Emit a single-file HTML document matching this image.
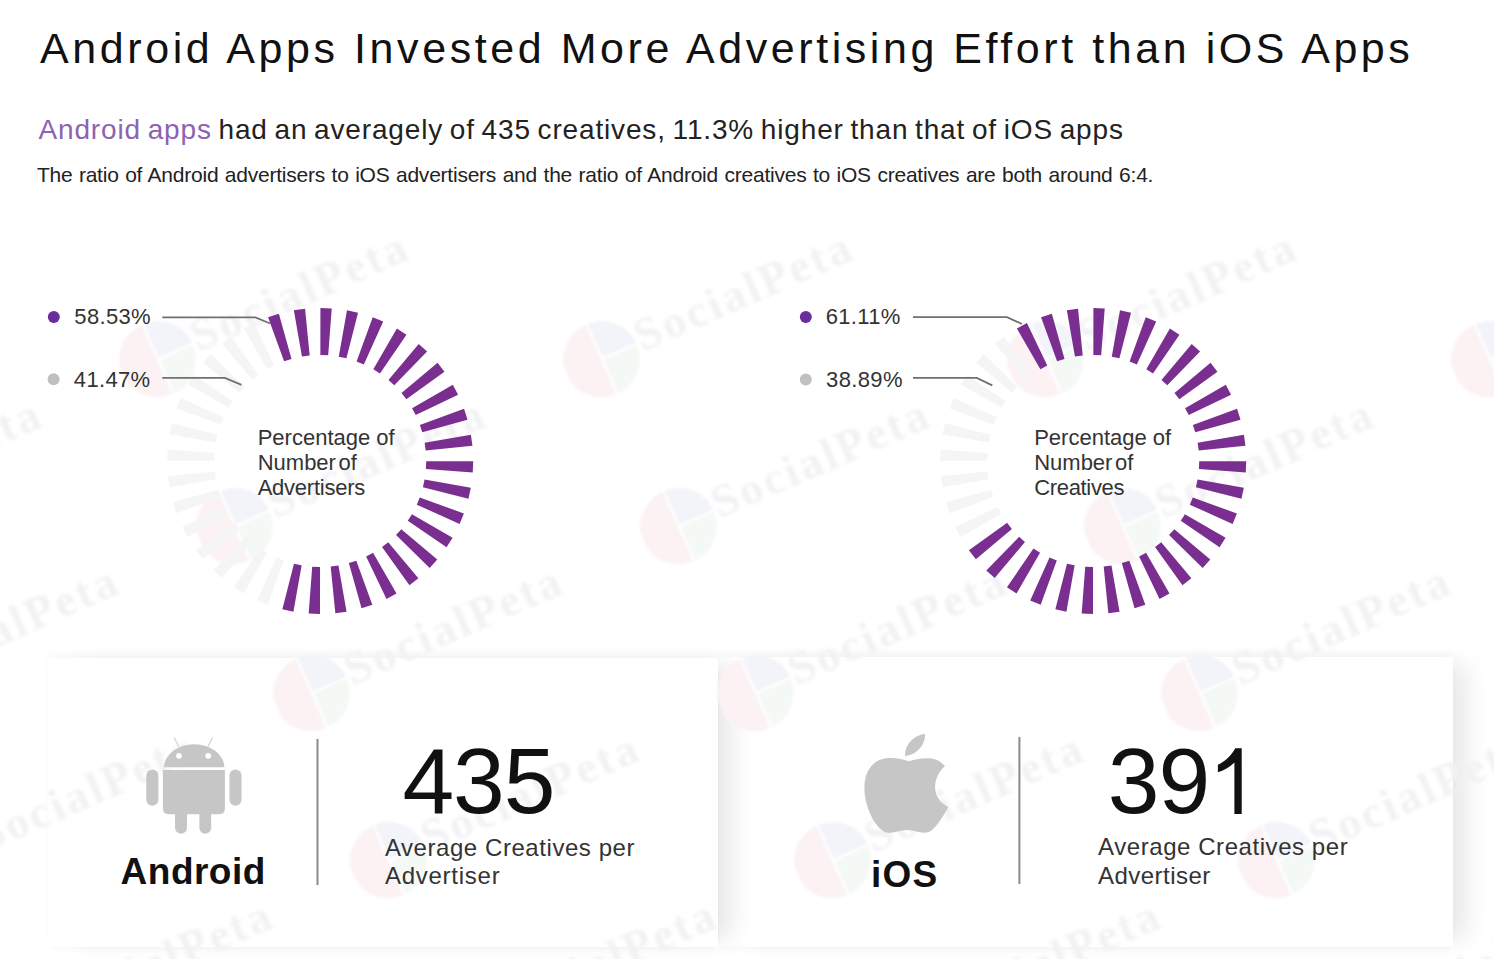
<!DOCTYPE html>
<html><head><meta charset="utf-8"><title>Android vs iOS</title>
<style>
html,body{margin:0;padding:0;}
body{width:1494px;height:959px;overflow:hidden;background:#fff;position:relative;font-family:"Liberation Sans", sans-serif;}
.t{position:absolute;white-space:nowrap;}
svg{position:absolute;left:0;top:0;}
.wm{position:absolute;width:0;height:0;transform:rotate(-23.7deg);transform-origin:0 0;}
.wm svg{position:absolute;left:-38px;top:-38px;filter:blur(1px);}
.wm span{position:absolute;left:40px;top:-28px;font-family:"Liberation Serif",serif;font-weight:bold;font-size:46px;line-height:46px;letter-spacing:3px;color:#f2f2f5;white-space:nowrap;filter:blur(1.5px);}
.card{position:absolute;background:#fff;box-shadow:22px 0 22px -8px rgba(0,0,0,0.09), 0 -5px 8px -2px rgba(0,0,0,0.035), 0 5px 6px -3px rgba(0,0,0,0.03);}
</style></head><body>
<div class="card" style="left:719px;top:657px;width:734px;height:290px;"></div>
<div class="card" style="left:48px;top:658px;width:670px;height:289px;"></div>
<div class="wm" style="left:-286px;top:359px"><svg width="76" height="76" viewBox="-38 -38 76 76"><path d="M-1.2,-38 L-1.2,38 A38,38 0 0 1 -1.2,-38 Z" fill="#fcf2f4"/><path d="M1.2,-38 A38,38 0 0 1 38,-1.2 L1.2,-1.2 Z" fill="#f2f4fa"/><path d="M1.2,1.2 L38,1.2 A38,38 0 0 1 1.2,38 Z" fill="#f5f9f6"/></svg><span>SocialPeta</span></div>
<div class="wm" style="left:158px;top:359px"><svg width="76" height="76" viewBox="-38 -38 76 76"><path d="M-1.2,-38 L-1.2,38 A38,38 0 0 1 -1.2,-38 Z" fill="#fcf2f4"/><path d="M1.2,-38 A38,38 0 0 1 38,-1.2 L1.2,-1.2 Z" fill="#f2f4fa"/><path d="M1.2,1.2 L38,1.2 A38,38 0 0 1 1.2,38 Z" fill="#f5f9f6"/></svg><span>SocialPeta</span></div>
<div class="wm" style="left:602px;top:359px"><svg width="76" height="76" viewBox="-38 -38 76 76"><path d="M-1.2,-38 L-1.2,38 A38,38 0 0 1 -1.2,-38 Z" fill="#fcf2f4"/><path d="M1.2,-38 A38,38 0 0 1 38,-1.2 L1.2,-1.2 Z" fill="#f2f4fa"/><path d="M1.2,1.2 L38,1.2 A38,38 0 0 1 1.2,38 Z" fill="#f5f9f6"/></svg><span>SocialPeta</span></div>
<div class="wm" style="left:1046px;top:359px"><svg width="76" height="76" viewBox="-38 -38 76 76"><path d="M-1.2,-38 L-1.2,38 A38,38 0 0 1 -1.2,-38 Z" fill="#fcf2f4"/><path d="M1.2,-38 A38,38 0 0 1 38,-1.2 L1.2,-1.2 Z" fill="#f2f4fa"/><path d="M1.2,1.2 L38,1.2 A38,38 0 0 1 1.2,38 Z" fill="#f5f9f6"/></svg><span>SocialPeta</span></div>
<div class="wm" style="left:1490px;top:359px"><svg width="76" height="76" viewBox="-38 -38 76 76"><path d="M-1.2,-38 L-1.2,38 A38,38 0 0 1 -1.2,-38 Z" fill="#fcf2f4"/><path d="M1.2,-38 A38,38 0 0 1 38,-1.2 L1.2,-1.2 Z" fill="#f2f4fa"/><path d="M1.2,1.2 L38,1.2 A38,38 0 0 1 1.2,38 Z" fill="#f5f9f6"/></svg><span>SocialPeta</span></div>
<div class="wm" style="left:-209px;top:526px"><svg width="76" height="76" viewBox="-38 -38 76 76"><path d="M-1.2,-38 L-1.2,38 A38,38 0 0 1 -1.2,-38 Z" fill="#fcf2f4"/><path d="M1.2,-38 A38,38 0 0 1 38,-1.2 L1.2,-1.2 Z" fill="#f2f4fa"/><path d="M1.2,1.2 L38,1.2 A38,38 0 0 1 1.2,38 Z" fill="#f5f9f6"/></svg><span>SocialPeta</span></div>
<div class="wm" style="left:235px;top:526px"><svg width="76" height="76" viewBox="-38 -38 76 76"><path d="M-1.2,-38 L-1.2,38 A38,38 0 0 1 -1.2,-38 Z" fill="#fcf2f4"/><path d="M1.2,-38 A38,38 0 0 1 38,-1.2 L1.2,-1.2 Z" fill="#f2f4fa"/><path d="M1.2,1.2 L38,1.2 A38,38 0 0 1 1.2,38 Z" fill="#f5f9f6"/></svg><span>SocialPeta</span></div>
<div class="wm" style="left:679px;top:526px"><svg width="76" height="76" viewBox="-38 -38 76 76"><path d="M-1.2,-38 L-1.2,38 A38,38 0 0 1 -1.2,-38 Z" fill="#fcf2f4"/><path d="M1.2,-38 A38,38 0 0 1 38,-1.2 L1.2,-1.2 Z" fill="#f2f4fa"/><path d="M1.2,1.2 L38,1.2 A38,38 0 0 1 1.2,38 Z" fill="#f5f9f6"/></svg><span>SocialPeta</span></div>
<div class="wm" style="left:1123px;top:526px"><svg width="76" height="76" viewBox="-38 -38 76 76"><path d="M-1.2,-38 L-1.2,38 A38,38 0 0 1 -1.2,-38 Z" fill="#fcf2f4"/><path d="M1.2,-38 A38,38 0 0 1 38,-1.2 L1.2,-1.2 Z" fill="#f2f4fa"/><path d="M1.2,1.2 L38,1.2 A38,38 0 0 1 1.2,38 Z" fill="#f5f9f6"/></svg><span>SocialPeta</span></div>
<div class="wm" style="left:-132px;top:693px"><svg width="76" height="76" viewBox="-38 -38 76 76"><path d="M-1.2,-38 L-1.2,38 A38,38 0 0 1 -1.2,-38 Z" fill="#fcf2f4"/><path d="M1.2,-38 A38,38 0 0 1 38,-1.2 L1.2,-1.2 Z" fill="#f2f4fa"/><path d="M1.2,1.2 L38,1.2 A38,38 0 0 1 1.2,38 Z" fill="#f5f9f6"/></svg><span>SocialPeta</span></div>
<div class="wm" style="left:312px;top:693px"><svg width="76" height="76" viewBox="-38 -38 76 76"><path d="M-1.2,-38 L-1.2,38 A38,38 0 0 1 -1.2,-38 Z" fill="#fcf2f4"/><path d="M1.2,-38 A38,38 0 0 1 38,-1.2 L1.2,-1.2 Z" fill="#f2f4fa"/><path d="M1.2,1.2 L38,1.2 A38,38 0 0 1 1.2,38 Z" fill="#f5f9f6"/></svg><span>SocialPeta</span></div>
<div class="wm" style="left:756px;top:693px"><svg width="76" height="76" viewBox="-38 -38 76 76"><path d="M-1.2,-38 L-1.2,38 A38,38 0 0 1 -1.2,-38 Z" fill="#fcf2f4"/><path d="M1.2,-38 A38,38 0 0 1 38,-1.2 L1.2,-1.2 Z" fill="#f2f4fa"/><path d="M1.2,1.2 L38,1.2 A38,38 0 0 1 1.2,38 Z" fill="#f5f9f6"/></svg><span>SocialPeta</span></div>
<div class="wm" style="left:1200px;top:693px"><svg width="76" height="76" viewBox="-38 -38 76 76"><path d="M-1.2,-38 L-1.2,38 A38,38 0 0 1 -1.2,-38 Z" fill="#fcf2f4"/><path d="M1.2,-38 A38,38 0 0 1 38,-1.2 L1.2,-1.2 Z" fill="#f2f4fa"/><path d="M1.2,1.2 L38,1.2 A38,38 0 0 1 1.2,38 Z" fill="#f5f9f6"/></svg><span>SocialPeta</span></div>
<div class="wm" style="left:-55px;top:860px"><svg width="76" height="76" viewBox="-38 -38 76 76"><path d="M-1.2,-38 L-1.2,38 A38,38 0 0 1 -1.2,-38 Z" fill="#fcf2f4"/><path d="M1.2,-38 A38,38 0 0 1 38,-1.2 L1.2,-1.2 Z" fill="#f2f4fa"/><path d="M1.2,1.2 L38,1.2 A38,38 0 0 1 1.2,38 Z" fill="#f5f9f6"/></svg><span>SocialPeta</span></div>
<div class="wm" style="left:389px;top:860px"><svg width="76" height="76" viewBox="-38 -38 76 76"><path d="M-1.2,-38 L-1.2,38 A38,38 0 0 1 -1.2,-38 Z" fill="#fcf2f4"/><path d="M1.2,-38 A38,38 0 0 1 38,-1.2 L1.2,-1.2 Z" fill="#f2f4fa"/><path d="M1.2,1.2 L38,1.2 A38,38 0 0 1 1.2,38 Z" fill="#f5f9f6"/></svg><span>SocialPeta</span></div>
<div class="wm" style="left:833px;top:860px"><svg width="76" height="76" viewBox="-38 -38 76 76"><path d="M-1.2,-38 L-1.2,38 A38,38 0 0 1 -1.2,-38 Z" fill="#fcf2f4"/><path d="M1.2,-38 A38,38 0 0 1 38,-1.2 L1.2,-1.2 Z" fill="#f2f4fa"/><path d="M1.2,1.2 L38,1.2 A38,38 0 0 1 1.2,38 Z" fill="#f5f9f6"/></svg><span>SocialPeta</span></div>
<div class="wm" style="left:1277px;top:860px"><svg width="76" height="76" viewBox="-38 -38 76 76"><path d="M-1.2,-38 L-1.2,38 A38,38 0 0 1 -1.2,-38 Z" fill="#fcf2f4"/><path d="M1.2,-38 A38,38 0 0 1 38,-1.2 L1.2,-1.2 Z" fill="#f2f4fa"/><path d="M1.2,1.2 L38,1.2 A38,38 0 0 1 1.2,38 Z" fill="#f5f9f6"/></svg><span>SocialPeta</span></div>
<div class="wm" style="left:22px;top:1027px"><svg width="76" height="76" viewBox="-38 -38 76 76"><path d="M-1.2,-38 L-1.2,38 A38,38 0 0 1 -1.2,-38 Z" fill="#fcf2f4"/><path d="M1.2,-38 A38,38 0 0 1 38,-1.2 L1.2,-1.2 Z" fill="#f2f4fa"/><path d="M1.2,1.2 L38,1.2 A38,38 0 0 1 1.2,38 Z" fill="#f5f9f6"/></svg><span>SocialPeta</span></div>
<div class="wm" style="left:466px;top:1027px"><svg width="76" height="76" viewBox="-38 -38 76 76"><path d="M-1.2,-38 L-1.2,38 A38,38 0 0 1 -1.2,-38 Z" fill="#fcf2f4"/><path d="M1.2,-38 A38,38 0 0 1 38,-1.2 L1.2,-1.2 Z" fill="#f2f4fa"/><path d="M1.2,1.2 L38,1.2 A38,38 0 0 1 1.2,38 Z" fill="#f5f9f6"/></svg><span>SocialPeta</span></div>
<div class="wm" style="left:910px;top:1027px"><svg width="76" height="76" viewBox="-38 -38 76 76"><path d="M-1.2,-38 L-1.2,38 A38,38 0 0 1 -1.2,-38 Z" fill="#fcf2f4"/><path d="M1.2,-38 A38,38 0 0 1 38,-1.2 L1.2,-1.2 Z" fill="#f2f4fa"/><path d="M1.2,1.2 L38,1.2 A38,38 0 0 1 1.2,38 Z" fill="#f5f9f6"/></svg><span>SocialPeta</span></div>
<div class="wm" style="left:1354px;top:1027px"><svg width="76" height="76" viewBox="-38 -38 76 76"><path d="M-1.2,-38 L-1.2,38 A38,38 0 0 1 -1.2,-38 Z" fill="#fcf2f4"/><path d="M1.2,-38 A38,38 0 0 1 38,-1.2 L1.2,-1.2 Z" fill="#f2f4fa"/><path d="M1.2,1.2 L38,1.2 A38,38 0 0 1 1.2,38 Z" fill="#f5f9f6"/></svg><span>SocialPeta</span></div>
<svg width="1494" height="959" viewBox="0 0 1494 959">
<path d="M267.67,604.70 L257.19,600.42 L276.55,557.59 L283.81,560.56ZM243.52,593.39 L233.94,587.36 L260.44,548.55 L267.07,552.72ZM221.69,578.07 L213.30,570.46 L246.14,536.84 L251.95,542.11ZM202.86,559.18 L195.92,550.24 L234.10,522.83 L238.90,529.02ZM187.59,537.31 L182.31,527.30 L224.67,506.93 L228.33,513.87ZM176.35,513.13 L172.89,502.35 L218.14,489.65 L220.54,497.12ZM169.49,487.36 L167.95,476.14 L214.72,471.49 L215.78,479.26ZM167.20,460.79 L167.63,449.47 L214.50,453.02 L214.20,460.85ZM169.56,434.22 L171.95,423.16 L217.49,434.78 L215.84,442.45ZM176.50,408.47 L180.78,397.99 L223.61,417.35 L220.64,424.61ZM187.81,384.32 L193.84,374.74 L232.65,401.24 L228.48,407.87ZM203.13,362.49 L210.74,354.10 L244.36,386.94 L239.09,392.75ZM222.02,343.66 L230.96,336.72 L258.37,374.90 L252.18,379.70ZM243.89,328.39 L253.90,323.11 L274.27,365.47 L267.33,369.13Z" fill="#f5f5f5"/>
<path d="M268.07,317.15 L278.85,313.69 L291.55,358.94 L284.08,361.34ZM293.84,310.29 L305.06,308.75 L309.71,355.52 L301.94,356.58ZM320.41,308.00 L331.73,308.43 L328.18,355.30 L320.35,355.00ZM346.98,310.36 L358.04,312.75 L346.42,358.29 L338.75,356.64ZM372.73,317.30 L383.21,321.58 L363.85,364.41 L356.59,361.44ZM396.88,328.61 L406.46,334.64 L379.96,373.45 L373.33,369.28ZM418.71,343.93 L427.10,351.54 L394.26,385.16 L388.45,379.89ZM437.54,362.82 L444.48,371.76 L406.30,399.17 L401.50,392.98ZM452.81,384.69 L458.09,394.70 L415.73,415.07 L412.07,408.13ZM464.05,408.87 L467.51,419.65 L422.26,432.35 L419.86,424.88ZM470.91,434.64 L472.45,445.86 L425.68,450.51 L424.62,442.74ZM473.20,461.21 L472.77,472.53 L425.90,468.98 L426.20,461.15ZM470.84,487.78 L468.45,498.84 L422.91,487.22 L424.56,479.55ZM463.90,513.53 L459.62,524.01 L416.79,504.65 L419.76,497.39ZM452.59,537.68 L446.56,547.26 L407.75,520.76 L411.92,514.13ZM437.27,559.51 L429.66,567.90 L396.04,535.06 L401.31,529.25ZM418.38,578.34 L409.44,585.28 L382.03,547.10 L388.22,542.30ZM396.51,593.61 L386.50,598.89 L366.13,556.53 L373.07,552.87ZM372.33,604.85 L361.55,608.31 L348.85,563.06 L356.32,560.66ZM346.56,611.71 L335.34,613.25 L330.69,566.48 L338.46,565.42ZM319.99,614.00 L308.67,613.57 L312.22,566.70 L320.05,567.00ZM293.42,611.64 L282.36,609.25 L293.98,563.71 L301.65,565.36Z" fill="#7a2f90"/>
<path d="M960.59,537.31 L955.31,527.30 L997.67,506.93 L1001.33,513.87ZM949.35,513.13 L945.89,502.35 L991.14,489.65 L993.54,497.12ZM942.49,487.36 L940.95,476.14 L987.72,471.49 L988.78,479.26ZM940.20,460.79 L940.63,449.47 L987.50,453.02 L987.20,460.85ZM942.56,434.22 L944.95,423.16 L990.49,434.78 L988.84,442.45ZM949.50,408.47 L953.78,397.99 L996.61,417.35 L993.64,424.61ZM960.81,384.32 L966.84,374.74 L1005.65,401.24 L1001.48,407.87ZM976.13,362.49 L983.74,354.10 L1017.36,386.94 L1012.09,392.75ZM995.02,343.66 L1003.96,336.72 L1031.37,374.90 L1025.18,379.70Z" fill="#f5f5f5"/>
<path d="M1016.89,328.39 L1026.90,323.11 L1047.27,365.47 L1040.33,369.13ZM1041.07,317.15 L1051.85,313.69 L1064.55,358.94 L1057.08,361.34ZM1066.84,310.29 L1078.06,308.75 L1082.71,355.52 L1074.94,356.58ZM1093.41,308.00 L1104.73,308.43 L1101.18,355.30 L1093.35,355.00ZM1119.98,310.36 L1131.04,312.75 L1119.42,358.29 L1111.75,356.64ZM1145.73,317.30 L1156.21,321.58 L1136.85,364.41 L1129.59,361.44ZM1169.88,328.61 L1179.46,334.64 L1152.96,373.45 L1146.33,369.28ZM1191.71,343.93 L1200.10,351.54 L1167.26,385.16 L1161.45,379.89ZM1210.54,362.82 L1217.48,371.76 L1179.30,399.17 L1174.50,392.98ZM1225.81,384.69 L1231.09,394.70 L1188.73,415.07 L1185.07,408.13ZM1237.05,408.87 L1240.51,419.65 L1195.26,432.35 L1192.86,424.88ZM1243.91,434.64 L1245.45,445.86 L1198.68,450.51 L1197.62,442.74ZM1246.20,461.21 L1245.77,472.53 L1198.90,468.98 L1199.20,461.15ZM1243.84,487.78 L1241.45,498.84 L1195.91,487.22 L1197.56,479.55ZM1236.90,513.53 L1232.62,524.01 L1189.79,504.65 L1192.76,497.39ZM1225.59,537.68 L1219.56,547.26 L1180.75,520.76 L1184.92,514.13ZM1210.27,559.51 L1202.66,567.90 L1169.04,535.06 L1174.31,529.25ZM1191.38,578.34 L1182.44,585.28 L1155.03,547.10 L1161.22,542.30ZM1169.51,593.61 L1159.50,598.89 L1139.13,556.53 L1146.07,552.87ZM1145.33,604.85 L1134.55,608.31 L1121.85,563.06 L1129.32,560.66ZM1119.56,611.71 L1108.34,613.25 L1103.69,566.48 L1111.46,565.42ZM1092.99,614.00 L1081.67,613.57 L1085.22,566.70 L1093.05,567.00ZM1066.42,611.64 L1055.36,609.25 L1066.98,563.71 L1074.65,565.36ZM1040.67,604.70 L1030.19,600.42 L1049.55,557.59 L1056.81,560.56ZM1016.52,593.39 L1006.94,587.36 L1033.44,548.55 L1040.07,552.72ZM994.69,578.07 L986.30,570.46 L1019.14,536.84 L1024.95,542.11ZM975.86,559.18 L968.92,550.24 L1007.10,522.83 L1011.90,529.02Z" fill="#7a2f90"/>
<g fill="none" stroke="#707070" stroke-width="1.8">
<path d="M162.3,317.3 L255.4,317.3 L270.2,323.5"/>
<path d="M162.3,377.9 L225,377.9 L241.5,384.8"/>
<path d="M913,317.2 L1007,317.2 L1022,324"/>
<path d="M913,377.9 L976.7,377.9 L992.3,385.4"/>
</g>
<circle cx="53.8" cy="316.9" r="6" fill="#6a2d9a"/>
<circle cx="53.6" cy="379.3" r="6" fill="#c0c0c0"/>
<circle cx="805.8" cy="317" r="6" fill="#6a2d9a"/>
<circle cx="805.8" cy="379.4" r="6" fill="#c0c0c0"/>
<rect x="316.5" y="739" width="2" height="146" fill="#8a8a8a"/>
<rect x="1018.4" y="737" width="2" height="147" fill="#8a8a8a"/>
<g fill="#c6c6c6">
<path d="M164.1,767.3 A30.1,23 0 0 1 224.3,767.3 Z"/>
<path d="M162.9,770.1 H224.9 V808.6 Q224.9,814.3 219.2,814.3 H168.6 Q162.9,814.3 162.9,808.6 Z"/>
<rect x="146.3" y="769.6" width="12.1" height="36.1" rx="6.05"/>
<rect x="229.5" y="769.6" width="12" height="36.1" rx="6"/>
<rect x="175" y="808" width="12" height="25.8" rx="6"/>
<rect x="199.4" y="808" width="11.8" height="25.8" rx="5.9"/>
</g>
<g stroke="#d0d0d0" stroke-width="1.2" stroke-linecap="round"><path d="M174.4,738 L178.5,746 M212.3,738 L208.2,746"/></g>
<circle cx="179" cy="755.8" r="2.9" fill="#fff"/><circle cx="208.2" cy="755.8" r="2.9" fill="#fff"/>
<path d="M908.8,761.3 C903,759 895,757.5 886.3,758.2 C874,759.5 864.4,770 864.4,787.6 C864.4,806 874,826 884,831.5 C887,833 889,833 891,832.8 C897,832 902,830 907.6,830.1 C913,830 918,832.5 924,832.8 C927,833 931,831.5 934,828 C940,822 945,813 948.2,807 C940,803 935.1,796 935.1,787.6 C935.1,778 940,770 945.1,766.3 C940,760 933,758 927.6,758.2 C920,758 914,759.5 908.8,761.3 Z M905.1,756.3 C904.5,745 913,735.5 925.1,733.8 C925.5,745 917,754.5 905.1,756.3 Z" fill="#c6c6c6"/>
<path d="M1241.7,748.3 L1241.7,813.9 L1234.4,813.9 L1234.4,762.5 C1230,767 1223.5,770.5 1217.9,772.3 L1217.9,764.8 C1225,761.8 1231.5,755.5 1235.2,748.3 Z" fill="#111"/>
</svg>
<div class="t" style="left:40.1px;top:26.9px;font-size:43px;line-height:43px;color:#111;font-weight:normal;letter-spacing:3.56px;word-spacing:0px;">Android Apps Invested More Advertising Effort than iOS Apps</div>
<div class="t" style="left:38.5px;top:116.4px;font-size:28px;line-height:28px;color:#222;font-weight:normal;letter-spacing:0.84px;word-spacing:-1.86px;"><span style="color:#8d62b3">Android apps</span> had an averagely of 435 creatives, 11.3% higher than that of iOS apps</div>
<div class="t" style="left:36.9px;top:164.0px;font-size:21px;line-height:21px;color:#222;font-weight:normal;letter-spacing:-0.23px;word-spacing:0.92px;">The ratio of Android advertisers to iOS advertisers and the ratio of Android creatives to iOS creatives are both around 6:4.</div>
<div class="t" style="left:74.3px;top:305.7px;font-size:22px;line-height:22px;color:#333;font-weight:normal;letter-spacing:0.35px;word-spacing:0px;">58.53%</div>
<div class="t" style="left:73.8px;top:369.1px;font-size:22px;line-height:22px;color:#333;font-weight:normal;letter-spacing:0.35px;word-spacing:0px;">41.47%</div>
<div class="t" style="left:825.7px;top:305.7px;font-size:22px;line-height:22px;color:#333;font-weight:normal;letter-spacing:0.35px;word-spacing:0px;">61.11%</div>
<div class="t" style="left:826.1px;top:369.1px;font-size:22px;line-height:22px;color:#333;font-weight:normal;letter-spacing:0.35px;word-spacing:0px;">38.89%</div>
<div class="t" style="left:257.7px;top:427.0px;font-size:22px;line-height:22px;color:#333;font-weight:normal;letter-spacing:0px;word-spacing:0px;">Percentage of</div>
<div class="t" style="left:257.7px;top:452.1px;font-size:22px;line-height:22px;color:#333;font-weight:normal;letter-spacing:0px;word-spacing:-3.5px;">Number of</div>
<div class="t" style="left:257.7px;top:477.2px;font-size:22px;line-height:22px;color:#333;font-weight:normal;letter-spacing:-0.25px;word-spacing:0px;">Advertisers</div>
<div class="t" style="left:1034.2px;top:427.0px;font-size:22px;line-height:22px;color:#333;font-weight:normal;letter-spacing:0px;word-spacing:0px;">Percentage of</div>
<div class="t" style="left:1034.2px;top:452.1px;font-size:22px;line-height:22px;color:#333;font-weight:normal;letter-spacing:0px;word-spacing:-3.5px;">Number of</div>
<div class="t" style="left:1034.2px;top:477.2px;font-size:22px;line-height:22px;color:#333;font-weight:normal;letter-spacing:-0.33px;word-spacing:0px;">Creatives</div>
<div class="t" style="left:120.6px;top:853.0px;font-size:37px;line-height:37px;color:#111;font-weight:bold;letter-spacing:0.48px;word-spacing:0px;">Android</div>
<div class="t" style="left:871.1px;top:856.2px;font-size:37px;line-height:37px;color:#111;font-weight:bold;letter-spacing:1.2px;word-spacing:0px;">iOS</div>
<div class="t" style="left:402.4px;top:734.9px;font-size:93px;line-height:93px;color:#111;font-weight:normal;letter-spacing:-1px;word-spacing:0px;">435</div>
<div class="t" style="left:1107.8px;top:734.9px;font-size:93px;line-height:93px;color:#111;font-weight:normal;letter-spacing:-1px;word-spacing:0px;">39</div>
<div class="t" style="left:384.9px;top:835.5px;font-size:24px;line-height:24px;color:#333;font-weight:normal;letter-spacing:0.56px;word-spacing:0px;">Average Creatives per</div>
<div class="t" style="left:384.9px;top:864.1px;font-size:24px;line-height:24px;color:#333;font-weight:normal;letter-spacing:0.75px;word-spacing:0px;">Advertiser</div>
<div class="t" style="left:1098.1px;top:835.0px;font-size:24px;line-height:24px;color:#333;font-weight:normal;letter-spacing:0.56px;word-spacing:0px;">Average Creatives per</div>
<div class="t" style="left:1098.1px;top:863.9px;font-size:24px;line-height:24px;color:#333;font-weight:normal;letter-spacing:0.45px;word-spacing:0px;">Advertiser</div>
</body></html>
